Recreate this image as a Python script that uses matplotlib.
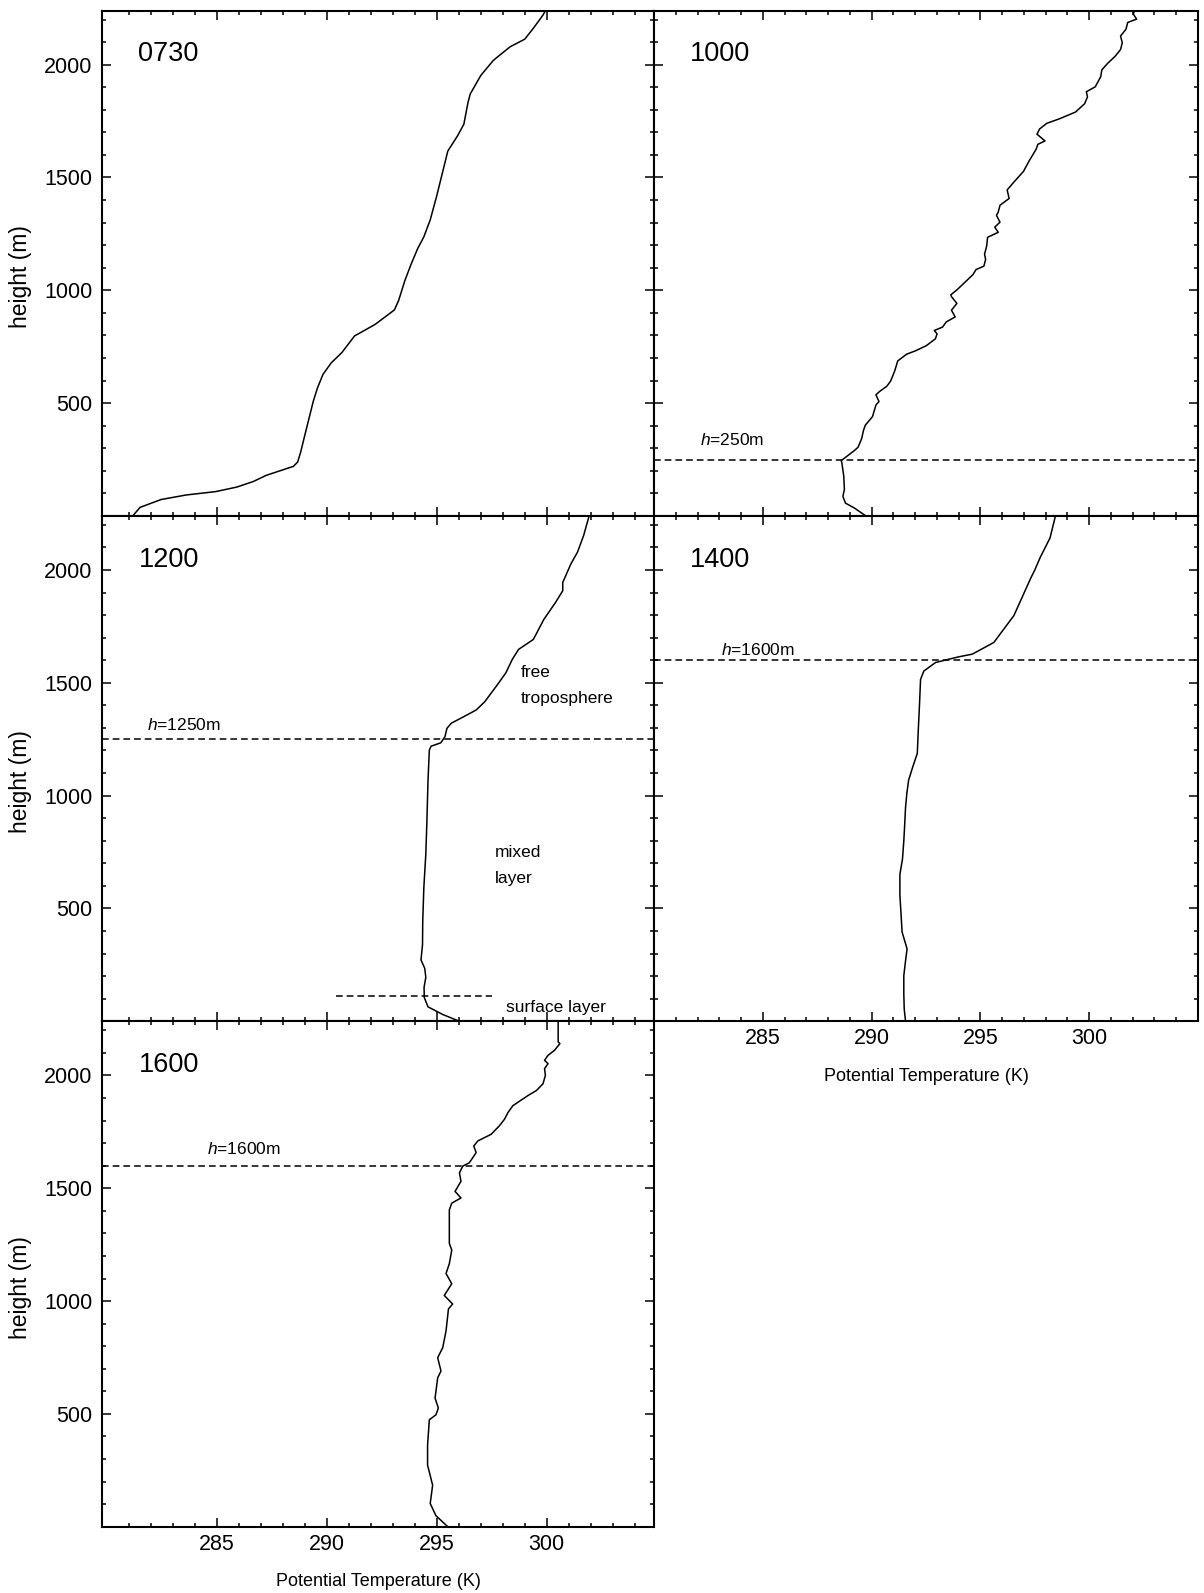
import matplotlib
matplotlib.use("Agg")
import matplotlib.pyplot as plt
from matplotlib.ticker import MultipleLocator, FixedLocator, NullFormatter

plt.rcParams["font.family"] = ["Liberation Sans", "DejaVu Sans"]
plt.rcParams["mathtext.fontset"] = "custom"
plt.rcParams["mathtext.rm"] = "Liberation Sans"
plt.rcParams["mathtext.it"] = "Liberation Sans:italic"

# ---------------- sounding data: potential temperature (K) vs height (m) ----------------
times = ["0730", "1000", "1200", "1400", "1600"]

theta_0730 = [281.21, 281.5, 282.46, 283.6, 284.94, 285.9, 286.66, 287.24, 288.48, 288.67,
              288.81, 288.96, 289.15, 289.38, 289.57, 289.82, 290.2, 290.68, 290.97, 291.26,
              291.54, 292.21, 293.07, 293.26, 293.55, 293.84, 294.13, 294.41, 294.7, 294.99,
              295.18, 295.5, 295.94, 296.23, 296.42, 296.52, 297.0, 297.57, 298.33, 299.0,
              299.39, 299.83, 299.95]
z_0730 = [5, 38, 73, 93, 108, 128, 153, 180, 220, 239,
          284, 344, 418, 508, 567, 627, 679, 724, 761, 798,
          813, 850, 913, 954, 1044, 1118, 1185, 1237, 1312, 1416,
          1491, 1617, 1684, 1736, 1833, 1870, 1952, 2019, 2079, 2113,
          2161, 2220, 2240]

theta_1000 = [289.74, 289.21, 288.8, 288.68, 288.75, 288.72, 288.63, 288.6, 289.21, 289.38,
              289.54, 289.63, 289.71, 290.04, 290.2, 290.34, 290.2, 290.37, 290.7, 290.87,
              291.06, 291.2, 291.61, 292.02, 292.52, 292.93, 293.01, 292.88, 293.26, 293.43,
              293.84, 293.67, 293.92, 293.67, 293.64, 293.92, 294.25, 294.66, 294.8, 295.16,
              295.24, 295.19, 295.29, 295.33, 295.82, 295.66, 295.9, 295.74, 295.82, 295.9,
              296.32, 296.23, 296.56, 296.98, 297.23, 297.56, 297.64, 297.97, 297.6, 297.72,
              298.05, 298.63, 299.37, 299.79, 299.92, 299.87, 300.28, 300.53, 300.58, 300.86,
              301.19, 301.44, 301.52, 301.44, 301.69, 301.77, 302.18, 302.02, 302.1]
z_1000 = [0, 35, 57, 87, 117, 177, 237, 245, 290, 305,
          342, 380, 402, 440, 492, 507, 537, 552, 575, 597,
          642, 687, 717, 732, 755, 785, 807, 822, 837, 860,
          882, 912, 942, 972, 980, 1002, 1032, 1070, 1092, 1107,
          1137, 1160, 1197, 1235, 1257, 1280, 1302, 1332, 1347, 1377,
          1407, 1445, 1482, 1527, 1572, 1625, 1647, 1662, 1692, 1715,
          1740, 1760, 1790, 1827, 1857, 1880, 1902, 1947, 1977, 2007,
          2037, 2067, 2097, 2127, 2157, 2187, 2202, 2225, 2240]

theta_1200 = [296.03, 295.27, 294.6, 294.43, 294.42, 294.5, 294.45, 294.28, 294.35, 294.36,
              294.41, 294.5, 294.55, 294.6, 294.66, 294.74, 295.18, 295.37, 295.46, 295.66,
              296.23, 296.8, 297.19, 297.47, 297.76, 298.14, 298.43, 298.72, 299.39, 299.87,
              300.4, 300.73, 300.73, 301.1, 301.4, 301.68, 301.93]
z_1200 = [0, 30, 64, 105, 150, 195, 235, 272, 339, 443,
          592, 741, 889, 1068, 1202, 1219, 1234, 1261, 1298, 1321,
          1350, 1380, 1417, 1454, 1492, 1544, 1603, 1648, 1692, 1781,
          1856, 1908, 1945, 2027, 2079, 2153, 2240]

theta_1400 = [291.56, 291.5, 291.48, 291.48, 291.55, 291.63, 291.4, 291.35, 291.3, 291.3,
              291.42, 291.48, 291.52, 291.56, 291.62, 291.7, 291.9, 292.1, 292.15, 292.2,
              292.25, 292.4, 292.94, 294.0, 294.63, 295.62, 296.54, 297.31, 297.5, 297.75,
              298.2, 298.45]
z_1400 = [0, 53, 120, 202, 260, 321, 396, 480, 560, 650,
          720, 799, 870, 948, 1010, 1068, 1130, 1187, 1300, 1400,
          1515, 1552, 1590, 1615, 1627, 1679, 1798, 1963, 2000, 2056,
          2142, 2240]

theta_1600 = [295.5, 294.96, 294.7, 294.73, 294.81, 294.58, 294.58, 294.66, 294.96, 295.07,
              294.92, 295.04, 295.19, 295.04, 295.27, 295.42, 295.53, 295.72, 295.34, 295.68,
              295.42, 295.57, 295.68, 295.57, 295.57, 295.68, 296.1, 295.83, 296.1, 296.03,
              296.18, 296.48, 296.79, 296.68, 296.87, 297.47, 297.85, 298.08, 298.24, 298.46,
              298.69, 299.15, 299.53, 299.83, 299.94, 299.9, 300.06, 299.9, 300.06, 300.36,
              300.6, 300.52, 300.52]
z_1600 = [0, 49, 103, 125, 184, 273, 362, 474, 496, 526,
          570, 660, 690, 749, 794, 868, 965, 987, 1025, 1077,
          1122, 1166, 1226, 1256, 1404, 1434, 1457, 1486, 1531, 1568,
          1598, 1613, 1658, 1687, 1710, 1739, 1777, 1806, 1836, 1866,
          1881, 1911, 1933, 1963, 2000, 2030, 2052, 2067, 2089, 2112,
          2141, 2149, 2240]

# boundary-layer depth marked on the later soundings
h_times = ["1000", "1200", "1400", "1600"]
h_depth = [250, 1250, 1600, 1600]

# surface-layer top in the 1200 sounding and the span of its marker
surface_layer_top = 110
surface_layer_theta = [290.4, 297.5]

x_ticks = [285, 290, 295, 300]
y_ticks = [500, 1000, 1500, 2000]

profiles = {
    "0730": (theta_0730, z_0730),
    "1000": (theta_1000, z_1000),
    "1200": (theta_1200, z_1200),
    "1400": (theta_1400, z_1400),
    "1600": (theta_1600, z_1600),
}

# ---------------- layout ----------------
W, H = 1204, 1593
fig = plt.figure(figsize=(W / 100, H / 100), dpi=100)

col_x = [(102 / W, 552 / W), (654 / W, 544 / W)]
col_xlim = [(279.77, 304.88), (280.0, 305.0)]
row_y = [0.6761, 0.3589, 0.0416]
row_h = 0.3173
grid = {"0730": (0, 0), "1000": (0, 1), "1200": (1, 0), "1400": (1, 1), "1600": (2, 0)}

# where the h annotations sit (theta, z)
h_text_pos = {"1000": (282.1, 335), "1200": (281.8, 1313),
              "1400": (283.1, 1646), "1600": (284.55, 1672)}

x_minor = [v for v in range(281, 305) if v % 5]
tick_fs = 15.5
axes = {}
for t in times:
    r, c = grid[t]
    x0, w = col_x[c]
    ax = fig.add_axes([x0, row_y[r], w, row_h])
    axes[t] = ax
    th, zz = profiles[t]
    ax.plot(th, zz, color="black", lw=1.1, solid_joinstyle="round")
    ax.set_xlim(*col_xlim[c])
    ax.set_ylim(0, 2240)

    ax.xaxis.set_major_locator(FixedLocator(x_ticks))
    ax.xaxis.set_minor_locator(FixedLocator(x_minor))
    ax.yaxis.set_major_locator(FixedLocator(y_ticks))
    ax.yaxis.set_minor_locator(MultipleLocator(100))
    ax.tick_params(which="both", direction="in", top=True, right=True,
                   width=1.1, color="black")
    ax.tick_params(which="major", length=6.7)
    ax.tick_params(which="minor", length=3.1)
    ax.tick_params(axis="x", labelsize=tick_fs, pad=5)
    ax.tick_params(axis="y", labelsize=tick_fs, pad=7)
    for sp in ax.spines.values():
        sp.set_linewidth(1.5)

    # tick labels on the outer edges only
    if c == 0:
        ax.set_yticks(y_ticks)
        ax.set_yticklabels([str(v) for v in y_ticks])
        ax.text(-0.147, 0.474, "height (m)", transform=ax.transAxes, rotation=90,
                ha="center", va="center", fontsize=16.5)
    else:
        ax.yaxis.set_major_formatter(NullFormatter())

    if t in ("1400", "1600"):
        ax.set_xticks(x_ticks)
        ax.set_xticklabels([str(v) for v in x_ticks])
        ax.text(0.5, -0.109, "Potential Temperature (K)", transform=ax.transAxes,
                ha="center", va="center", fontsize=13)
    else:
        ax.xaxis.set_major_formatter(NullFormatter())

    ax.text(0.066, 0.913, t, transform=ax.transAxes, ha="left", va="center",
            fontsize=19.5)

dash = (4.4, 2.6)
for t, h in zip(h_times, h_depth):
    ax = axes[t]
    ax.axhline(h, color="black", lw=1.1, linestyle=(0, dash))
    tx, tz = h_text_pos[t]
    ax.text(tx, tz, r"$\mathit{h}$=%dm" % h, ha="left", va="center", fontsize=12.5)

ax = axes["1200"]
ax.plot(surface_layer_theta, [surface_layer_top] * 2, color="black", lw=1.1,
        linestyle=(0, dash))
ax.text(298.8, 1544, "free", ha="left", va="center", fontsize=12.5)
ax.text(298.8, 1432, "troposphere", ha="left", va="center", fontsize=12.5)
ax.text(297.65, 748, "mixed", ha="left", va="center", fontsize=12.5)
ax.text(297.65, 634, "layer", ha="left", va="center", fontsize=12.5)
ax.text(298.15, 62, "surface layer", ha="left", va="center", fontsize=12.5)

fig.savefig("out.png", dpi=100)
